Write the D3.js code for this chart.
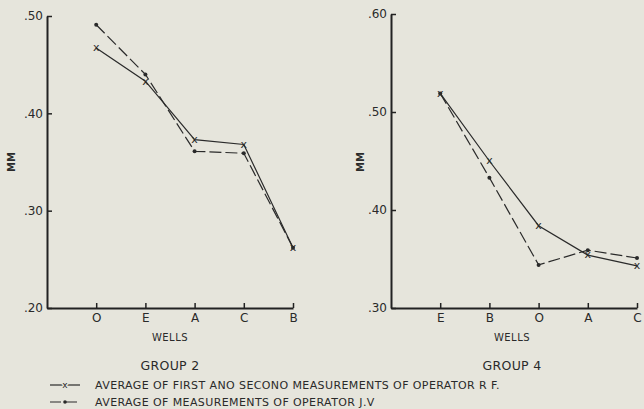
<!DOCTYPE html>
<html>
<head>
<meta charset="utf-8">
<script src="https://cdn.jsdelivr.net/npm/d3@7"></script>
<style>
  body { margin: 0; background: #e6e5dc; }
  svg { display: block; }
  text { font-family: "DejaVu Sans", sans-serif; fill: #2a2a2a; }
  .axis path, .axis line { stroke: #222; }
  .axis path { stroke-width: 2; }
  .axis line { stroke-width: 1.5; }
  .axis text { font-size: 12px; font-family: "DejaVu Sans", sans-serif; fill: #2a2a2a; }
</style>
</head>
<body>
<div id="chart"></div>
<script>

// group 2 panel
var wells2 = ["O", "E", "A", "C", "B"];
var rf2 = [0.467, 0.433, 0.373, 0.368, 0.262];
var jv2 = [0.491, 0.440, 0.361, 0.359, 0.262];
var yTicks2 = [0.20, 0.30, 0.40, 0.50];

// group 4 panel
var wells4 = ["E", "B", "O", "A", "C"];
var rf4 = [0.519, 0.450, 0.384, 0.354, 0.343];
var jv4 = [0.519, 0.433, 0.344, 0.359, 0.351];
var yTicks4 = [0.30, 0.40, 0.50, 0.60];

var legendLabels = [
  "AVERAGE OF FIRST ANO SECONO MEASUREMENTS OF OPERATOR R F.",
  "AVERAGE OF MEASUREMENTS OF OPERATOR J.V"
];

var params = {
  width: 644,
  height: 409,
  ink: "#2a2a2a",
  dash: "12,4"
};

var svg = d3.select("#chart")
            .append("svg")
            .attr("width", params.width)
            .attr("height", params.height);

function fmt(d) { return d3.format(".2f")(d).replace(/^0/, ""); }

function plot_panel(opt) {

    var x = d3.scalePoint().domain([""].concat(opt.wells)).range([opt.left, opt.right]);
    var y = d3.scaleLinear().domain(opt.ydom).range([308, opt.top]);

    var g = svg.append("g");

    // y axis (ticks pointing inward)
    g.append("g")
        .attr("class", "axis")
        .attr("transform", "translate(" + opt.left + ",0)")
        .call(d3.axisLeft(y).tickValues(opt.yticks).tickFormat(fmt)
                .tickSizeInner(-5).tickSizeOuter(0).tickPadding(4));

    // x axis
    g.append("g")
        .attr("class", "axis")
        .attr("transform", "translate(0,308)")
        .call(d3.axisBottom(x).tickValues(opt.wells)
                .tickSizeInner(-5).tickSizeOuter(0).tickPadding(5));

    // axis labels
    g.append("text")
        .attr("transform", "translate(" + opt.mmx + ",162) rotate(-90)")
        .attr("text-anchor", "middle")
        .attr("font-size", "10px")
        .attr("font-weight", "bold")
        .text("MM");

    g.append("text")
        .attr("x", opt.cx)
        .attr("y", 341)
        .attr("text-anchor", "middle")
        .attr("font-size", "10px")
        .attr("letter-spacing", "0.5px")
        .text("WELLS");

    g.append("text")
        .attr("x", opt.cx)
        .attr("y", 370)
        .attr("text-anchor", "middle")
        .attr("font-size", "12.5px")
        .attr("letter-spacing", "0.3px")
        .text(opt.title);

    var line = d3.line()
                 .x(function(d, i) { return x(opt.wells[i]); })
                 .y(function(d) { return y(d); });

    // operator J.V : dashed with dots
    g.append("path")
        .datum(opt.jv)
        .attr("d", line)
        .attr("fill", "none")
        .attr("stroke", params.ink)
        .attr("stroke-width", 1.2)
        .attr("stroke-dasharray", params.dash);

    g.selectAll(".dot")
        .data(opt.jv).enter()
        .append("circle")
            .attr("cx", function(d, i) { return x(opt.wells[i]); })
            .attr("cy", function(d) { return y(d); })
            .attr("r", 2)
            .attr("fill", params.ink);

    // operator R.F. : solid with x
    g.append("path")
        .datum(opt.rf)
        .attr("d", line)
        .attr("fill", "none")
        .attr("stroke", params.ink)
        .attr("stroke-width", 1.2);

    g.selectAll(".xmark")
        .data(opt.rf).enter()
        .append("text")
            .attr("x", function(d, i) { return x(opt.wells[i]); })
            .attr("y", function(d) { return y(d); })
            .attr("dy", "0.3em")
            .attr("text-anchor", "middle")
            .attr("font-size", "11px")
            .text("x");
}

plot_panel({ wells: wells2, rf: rf2, jv: jv2, ydom: [0.20, 0.50], yticks: yTicks2,
             left: 47, right: 293, top: 16, mmx: 15, cx: 170, title: "GROUP 2" });

plot_panel({ wells: wells4, rf: rf4, jv: jv4, ydom: [0.30, 0.60], yticks: yTicks4,
             left: 391, right: 637, top: 14, mmx: 364, cx: 512, title: "GROUP 4" });

// legend
var legend = svg.selectAll(".legend")
    .data(legendLabels).enter()
    .append("g")
        .attr("class", "legend")
        .attr("transform", function(d, i) { return "translate(0," + (385 + i * 17) + ")"; });

legend.append("line")
    .attr("x1", 50).attr("x2", 80)
    .attr("stroke", params.ink)
    .attr("stroke-width", 1.2)
    .attr("stroke-dasharray", function(d, i) { return i == 0 ? null : "11,5"; });

legend.append("text")
    .attr("x", 65)
    .attr("dy", "0.3em")
    .attr("text-anchor", "middle")
    .attr("font-size", "9px")
    .style("paint-order", "stroke")
    .style("stroke", "#e6e5dc")
    .style("stroke-width", 3)
    .text(function(d, i) { return i == 0 ? "x" : ""; });

legend.filter(function(d, i) { return i == 1; })
    .append("circle")
    .attr("cx", 65).attr("r", 1.8)
    .attr("fill", params.ink);

legend.append("text")
    .attr("x", 95)
    .attr("dy", "0.35em")
    .attr("font-size", "11px")
    .attr("letter-spacing", "0.4px")
    .text(function(d) { return d; });

</script>
</body>
</html>
